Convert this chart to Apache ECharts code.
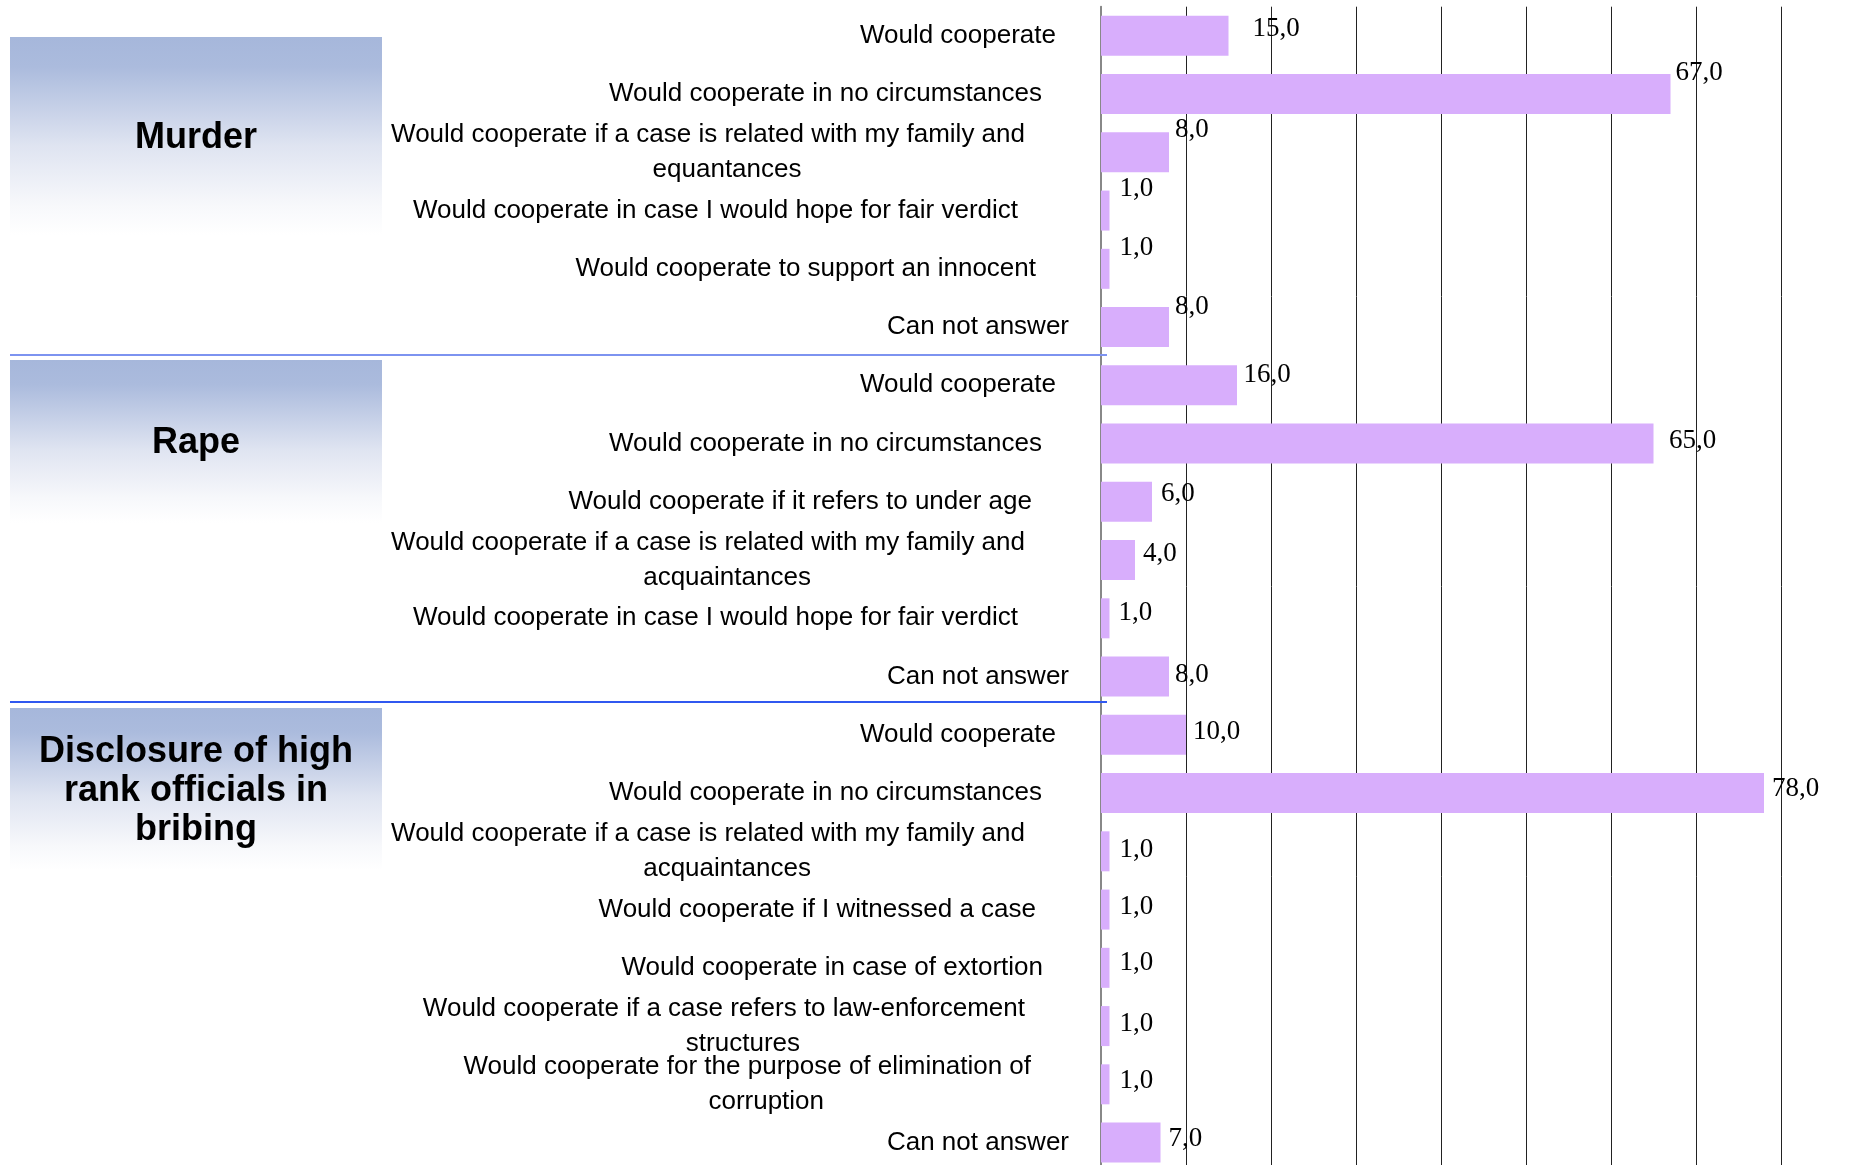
<!DOCTYPE html>
<html><head><meta charset="utf-8">
<script src="https://cdn.jsdelivr.net/npm/echarts@6/dist/echarts.min.js"></script>
<style>html,body{margin:0;padding:0;background:#fff}#c{width:1865px;height:1165px}</style>
</head><body><div id="c"></div>
<script>
// ---------- data ----------
const categories = [
  'Would cooperate',
  'Would cooperate in no circumstances',
  'Would cooperate if a case is related with my family and\nequantances',
  'Would cooperate in case I would hope for fair verdict',
  'Would cooperate to support an innocent',
  'Can not answer',
  'Would cooperate',
  'Would cooperate in no circumstances',
  'Would cooperate if it refers to under age',
  'Would cooperate if a case is related with my family and\nacquaintances',
  'Would cooperate in case I would hope for fair verdict',
  'Can not answer',
  'Would cooperate',
  'Would cooperate in no circumstances',
  'Would cooperate if a case is related with my family and\nacquaintances',
  'Would cooperate if I witnessed a case',
  'Would cooperate in case of extortion',
  'Would cooperate if a case refers to law-enforcement\nstructures',
  'Would cooperate for the purpose of elimination of\ncorruption',
  'Can not answer'
];
const values = [15, 67, 8, 1, 1, 8, 16, 65, 6, 4, 1, 8, 10, 78, 1, 1, 1, 1, 1, 7];
const groupTitles = ['Murder', 'Rape', 'Disclosure of high\nrank officials in\nbribing'];

// ---------- layout / styling ----------
const SANS = '"Liberation Sans", Arial, sans-serif';
const SERIF = '"Liberation Serif", "Times New Roman", serif';
const labelAnchor = 1069;                // x where right-aligned category labels end at most
const labelRight = [1056,1042,1025,1018,1036,1069, 1056,1042,1032,1025,1018,1069,
                    1056,1042,1025,1036,1043,1025,1031,1069];
const labelNudge = [[17,-7],[-2,-21.6],[-1,-22.5],[3,-21.6],[3,-21.4],[-1,-20],
                    [-0.5,-10.4],[8.5,-3],[2,-8],[1,-6],[2,-5],[-1,-2],
                    [0,-3],[1,-4],[3,-1.5],[3,-3],[3,-4.7],[3,-2],[3,-3.5],[1,-4]];
const boxes = [
  {y: 37, h: 198, ty: 138},
  {y: 360, h: 163, ty: 443},
  {y: 708, h: 162, ty: 791}
];
const separators = [{y: 355, color: '#7d93f0'}, {y: 702, color: '#3058f0'}];

const yData = categories.map((c, i) => ({
  value: c,
  textStyle: {padding: [0, labelAnchor - labelRight[i], 0, 0]}
}));
const seriesData = values.map((v, i) => ({
  value: v,
  label: {offset: labelNudge[i]}
}));

const graphics = [];
boxes.forEach((b, i) => {
  graphics.push({
    type: 'rect', shape: {x: 10, y: b.y, width: 372, height: b.h}, z: 0,
    style: {fill: {type: 'linear', x: 0, y: 0, x2: 0, y2: 1, colorStops: [
      {offset: 0, color: '#a6b7db'}, {offset: 0.15, color: '#abbbdd'},
      {offset: 0.55, color: '#dfe4f1'}, {offset: 0.85, color: '#f7f8fb'},
      {offset: 1, color: '#ffffff'}]}}
  });
  graphics.push({
    type: 'text', x: 196, y: b.ty, z: 1,
    style: {text: groupTitles[i], fontSize: 36, fontWeight: 'bold', fontFamily: SANS,
            fill: '#000', align: 'center', verticalAlign: 'middle', lineHeight: 39}
  });
});
separators.forEach(s => graphics.push({
  type: 'line', z: 1, shape: {x1: 10, y1: s.y, x2: 1107, y2: s.y},
  style: {stroke: s.color, lineWidth: 2}
}));

const labelRich = {fontSize: 26, fontFamily: SANS, color: '#000', lineHeight: 35};

const chart = echarts.init(document.getElementById('c'), null, {renderer: 'canvas'});
chart.setOption({
  animation: false,
  backgroundColor: '#ffffff',
  grid: {left: 1101, top: 6.7, width: 680, height: 1165, containLabel: false, outerBoundsMode: 'none'},
  xAxis: {
    type: 'value', min: 0, max: 80, interval: 10,
    axisLabel: {show: false}, axisLine: {show: false}, axisTick: {show: false},
    splitLine: {show: true, lineStyle: {color: '#222', width: 1}}
  },
  yAxis: {
    type: 'category', inverse: true, data: yData,
    axisTick: {show: false},
    axisLine: {show: true, lineStyle: {color: '#888', width: 2}},
    axisLabel: {
      interval: 0, margin: 1101 - labelAnchor, align: 'right',
      fontSize: 26, fontFamily: SANS, color: '#000', lineHeight: 35,
      formatter: v => {
        if (v.indexOf('\n') < 0) return v;
        const parts = v.split('\n');
        return '{c|' + parts[0] + '}\n{d|' + parts[1] + '}';
      },
      rich: {
        c: Object.assign({align: 'center'}, labelRich),
        d: Object.assign({align: 'center', padding: [0, 0, 0, 38]}, labelRich)
      }
    }
  },
  series: [{
    type: 'bar', data: seriesData, barWidth: 40,
    itemStyle: {color: '#d8aefc'},
    label: {
      show: true, position: 'right', distance: 7,
      fontSize: 27, fontFamily: SERIF, color: '#000',
      formatter: p => p.value.toFixed(1).replace('.', ',')
    }
  }],
  graphic: graphics
});
</script>
</body></html>
